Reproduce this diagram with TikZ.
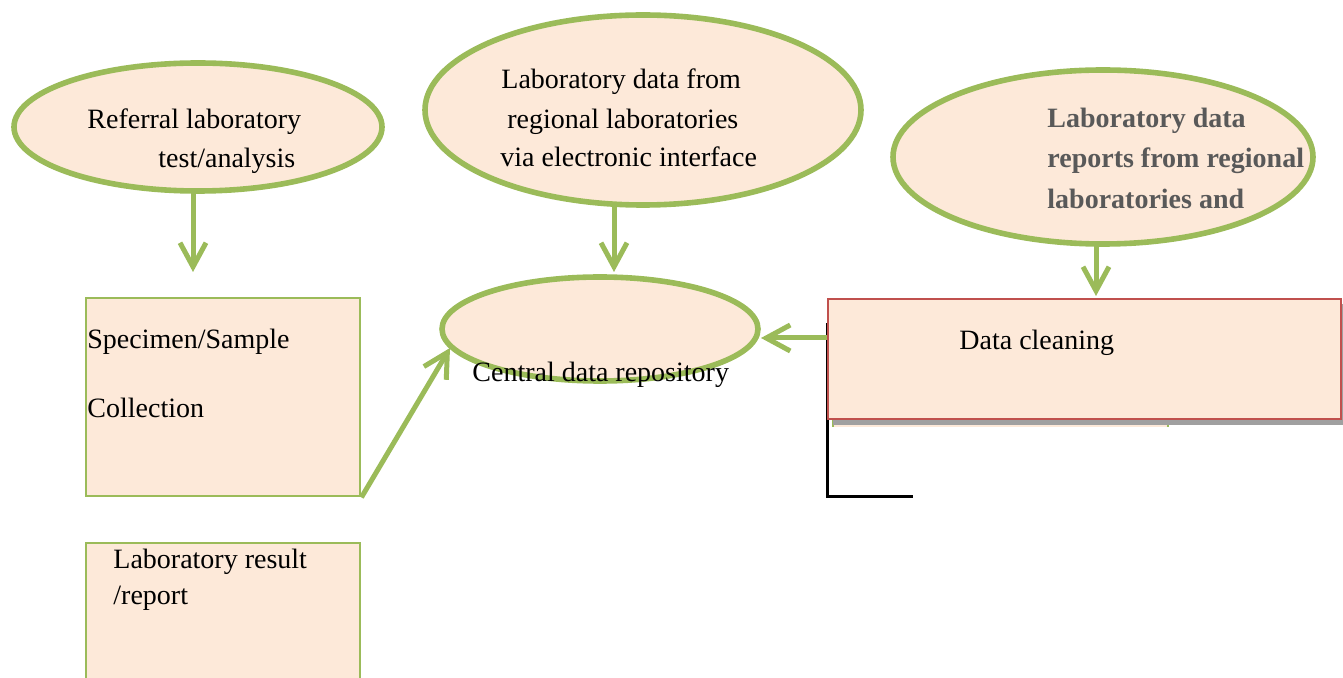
\documentclass[tikz,border=0pt]{standalone}
\usepackage{fontspec}
\setmainfont{Liberation Serif}
\usetikzlibrary{shapes.geometric,arrows.meta}
\definecolor{lgreen}{HTML}{9BBB59}
\definecolor{peach}{HTML}{FDE9D9}
\definecolor{lred}{HTML}{C0504D}
\definecolor{dgray}{HTML}{595959}
\definecolor{shadowgray}{HTML}{A0A0A0}
\begin{document}
\begin{tikzpicture}[x=0.5pt,y=-0.5pt,
  oval/.style={ellipse,draw=lgreen,line width=2.8pt,fill=peach,inner sep=0pt},
  greenbox/.style={rectangle,draw=lgreen,line width=1.2pt,fill=peach,inner sep=0pt,anchor=north west},
  redbox/.style={rectangle,draw=lred,line width=1.1pt,fill=peach,inner sep=0pt,anchor=north west},
  txt/.style={anchor=base west,inner sep=0pt,font=\fontsize{14}{19}\selectfont},
  btxt/.style={txt,font=\fontsize{14}{19}\selectfont\bfseries,text=dgray},
  flow/.style={draw=lgreen,line width=2.5pt,-{Straight Barb[length=12pt,width=13pt]}}]
\useasboundingbox (0,0) rectangle (1343,678);

% ellipses
\node[oval,minimum width=184pt,minimum height=64pt] (A) at (198,127) {};
\node[oval,minimum width=218pt,minimum height=95pt] (D) at (643,110) {};
\node[oval,minimum width=210pt,minimum height=87pt] (F) at (1103,157) {};
\node[oval,minimum width=158pt,minimum height=52pt] (E) at (600,329) {};

% boxes
\node[greenbox,minimum width=137pt,minimum height=99pt] (B) at (85,297) {};
\node[greenbox,minimum width=137pt,minimum height=80pt] (C) at (85,542) {};

% partly hidden box behind Data cleaning
\fill[peach] (833,330) rectangle (1168,427);
\draw[lgreen,line width=1.2pt] (833,330) -- (833,427) (1168,330) -- (1168,427);
% black corner line
\coordinate (L1) at (827,323);
\coordinate (L2) at (827,496);
\coordinate (L3) at (913,496);
\draw[black,line width=1.5pt] (L1) -- (L2) -- (L3);
% shadow and Data cleaning box
\fill[shadowgray] (833,304) rectangle (1345,425);
\node[redbox,minimum width=256.5pt,minimum height=60pt] (G) at (827,298) {};

% texts
\node[txt] (tA1) at (87,129) {Referral laboratory};
\node[txt] (tA2) at (158,168) {test/analysis};
\node[txt] (tD1) at (501,89) {Laboratory data from};
\node[txt] (tD2) at (507,129) {regional laboratories};
\node[txt] (tD3) at (500,167) {via electronic interface};
\node[btxt] (tF1) at (1047,128) {Laboratory data};
\node[btxt] (tF2) at (1047,168) {reports from regional};
\node[btxt] (tF3) at (1047,209) {laboratories and};
\node[txt] (tB1) at (87,349) {Specimen/Sample};
\node[txt] (tB2) at (87,417) {Collection};
\node[txt] (tC1) at (113,568) {Laboratory result};
\node[txt] (tC2) at (113,604) {/report};
\node[txt] (tG) at (959,350) {Data cleaning};
\node[txt] (tE) at (472,382) {Central data repository};

% connectors
\coordinate (a1) at (193,193);
\coordinate (a2) at (193,272);
\draw[flow] (a1) -- (a2);
\coordinate (d1) at (614,205);
\coordinate (d2) at (614,272);
\draw[flow] (d1) -- (d2);
\coordinate (f1) at (1096,245);
\coordinate (f2) at (1096,296);
\draw[flow] (f1) -- (f2);
\coordinate (g1) at (827,338);
\coordinate (g2) at (761,338);
\draw[flow] (g1) -- (g2);
\coordinate (e1) at (450,348);
\draw[flow] (B.south east) -- (e1);
\end{tikzpicture}
\end{document}
